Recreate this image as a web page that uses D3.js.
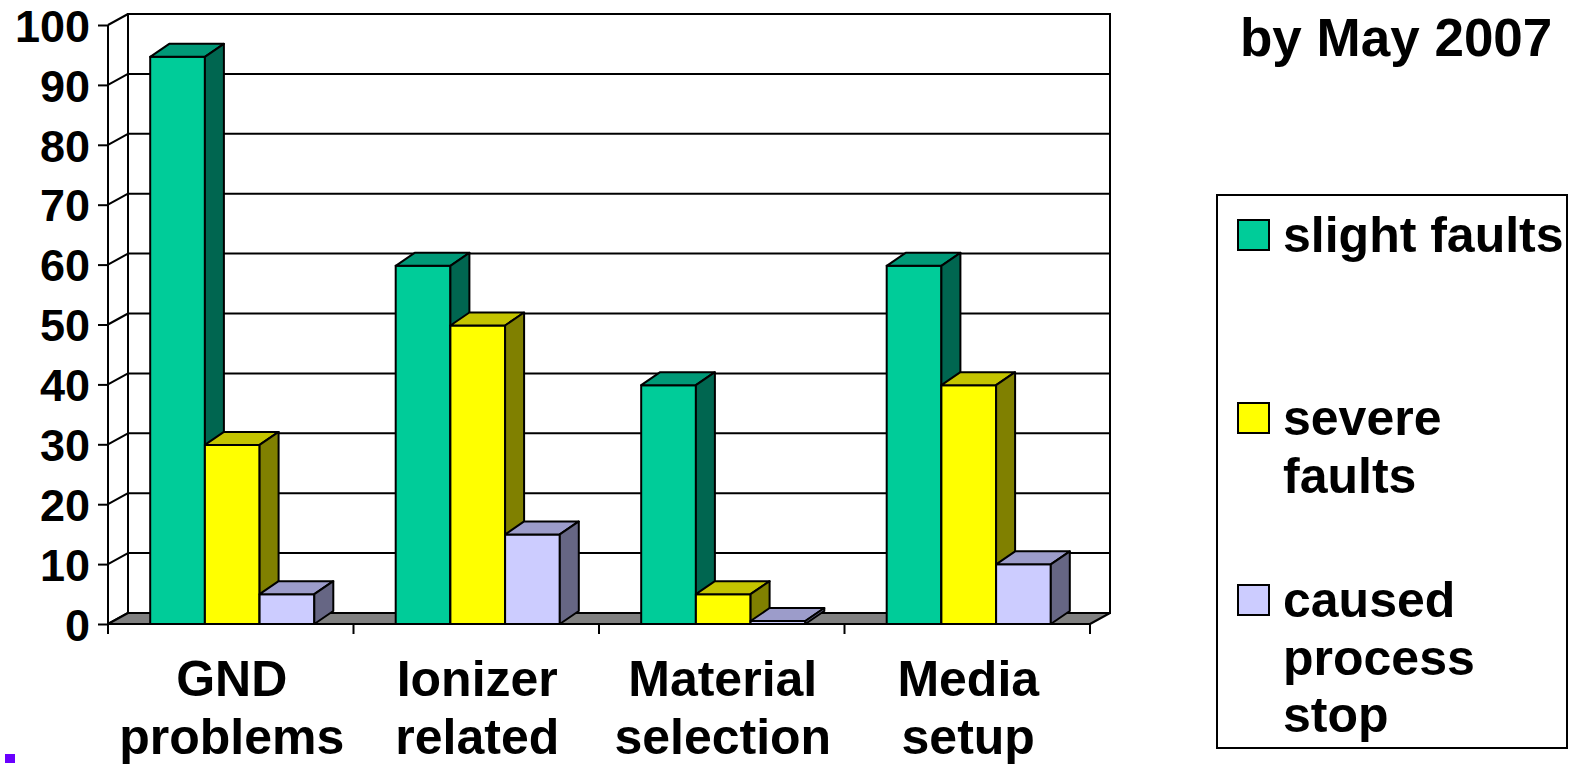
<!DOCTYPE html>
<html>
<head>
<meta charset="utf-8">
<script src="https://cdn.jsdelivr.net/npm/d3@7"></script>
<style>
  html, body { margin: 0; padding: 0; background: #fff; }
  svg { display: block; }
  text { font-family: "Liberation Sans", Arial, sans-serif; font-weight: bold; fill: #000; }
</style>
</head>
<body>
<svg id="chart" width="1569" height="765"></svg>
<script>
// ---- data ----
const categories = ["GND problems", "Ionizer related", "Material selection", "Media setup"];
const categoryLines = [["GND", "problems"], ["Ionizer", "related"], ["Material", "selection"], ["Media", "setup"]];
const seriesNames = ["slight faults", "severe faults", "caused process stop"];
const legendLines = [["slight faults"], ["severe", "faults"], ["caused", "process", "stop"]];
const slightFaults = [95, 60, 40, 60];
const severeFaults = [30, 50, 5, 40];
const processStop = [5, 15, 0.5, 10];
const yTicks = [0, 10, 20, 30, 40, 50, 60, 70, 80, 90, 100];
const titleText = "by May 2007";

// ---- colours (front, top, side) ----
const colors = [
  { front: "#00CC99", top: "#009977", side: "#006650" },
  { front: "#FFFF00", top: "#C4C400", side: "#808000" },
  { front: "#CCCCFF", top: "#9C9CCA", side: "#666684" }
];

const svg = d3.select("#chart");

// ---- geometry ----
const frontLeft = 108, frontRight = 1090;
const wallDX = 20, wallDY = -11;
const barDX = 19, barDY = -13;
const yFront = d3.scaleLinear().domain([0, 100]).range([624, 25]);
const yBack = d3.scaleLinear().domain([0, 100]).range([624 + wallDY, 25 + wallDY]);
const yBar = d3.scaleLinear().domain([0, 100]).range([624, 27]);

const x0 = d3.scaleBand().domain(categories).range([frontLeft, frontRight]).paddingInner(0).paddingOuter(0);
const x1 = d3.scaleBand().domain(seriesNames).range([0, x0.bandwidth()]).paddingInner(0).paddingOuter(0.744);

const seriesValues = [slightFaults, severeFaults, processStop];

// ---- back wall ----
const g = svg.append("g");
g.append("rect")
  .attr("x", frontLeft + wallDX).attr("y", yBack(100))
  .attr("width", frontRight - frontLeft).attr("height", yBack(0) - yBack(100))
  .attr("fill", "#fff").attr("stroke", "#000").attr("stroke-width", 2);

g.selectAll(".grid").data(yTicks.filter(d => d > 0 && d < 100)).enter().append("line")
  .attr("x1", frontLeft + wallDX).attr("x2", frontRight + wallDX)
  .attr("y1", d => yBack(d)).attr("y2", d => yBack(d))
  .attr("stroke", "#000").attr("stroke-width", 2);

g.selectAll(".diag").data(yTicks).enter().append("line")
  .attr("x1", frontLeft).attr("y1", d => yFront(d))
  .attr("x2", frontLeft + wallDX).attr("y2", d => yBack(d))
  .attr("stroke", "#000").attr("stroke-width", 2);

const fy = yFront(0), by = yBack(0);
g.append("polygon")
  .attr("points", [[frontLeft, fy], [frontRight, fy], [frontRight + wallDX, by], [frontLeft + wallDX, by]].map(p => p.join(",")).join(" "))
  .attr("fill", "#808080").attr("stroke", "#000").attr("stroke-width", 2).attr("stroke-linejoin", "round");

// ---- y axis ----
const yAxis = d3.axisLeft(yFront).tickValues(yTicks).tickSize(10).tickPadding(8).tickFormat(d3.format("d"));
const ya = svg.append("g").attr("transform", `translate(${frontLeft},0)`).call(yAxis);
ya.select(".domain").attr("d", `M0,${yFront(100)}V${yFront(0) + 10}`).attr("stroke", "#000").attr("stroke-width", 2);
ya.selectAll(".tick line").attr("stroke", "#000").attr("stroke-width", 2);
ya.selectAll(".tick text").attr("font-size", 45).attr("dy", "0.36em")
  .style("font-family", '"Liberation Sans", Arial, sans-serif').style("font-weight", "bold").attr("fill", "#000");

svg.selectAll(".ctick").data(categories).enter().append("line")
  .attr("x1", d => x0(d) + x0.bandwidth()).attr("x2", d => x0(d) + x0.bandwidth())
  .attr("y1", fy).attr("y2", fy + 10)
  .attr("stroke", "#000").attr("stroke-width", 2);

// ---- bars ----
const barsG = svg.append("g");
categories.forEach((cat, ci) => {
  seriesNames.forEach((s, si) => {
    const v = seriesValues[si][ci];
    const xl = x0(cat) + x1(s) + 1.5;
    const xr = xl + x1.bandwidth();
    const yb = yBar(0);
    const yt = yBar(v);
    const c = colors[si];
    const bg = barsG.append("g");
    bg.append("polygon")
      .attr("points", [[xl, yb], [xr, yb], [xr, yt], [xl, yt]].map(p => p.join(",")).join(" "))
      .attr("fill", c.front).attr("stroke", "#000").attr("stroke-width", 2).attr("stroke-linejoin", "round");
    bg.append("polygon")
      .attr("points", [[xl, yt], [xr, yt], [xr + barDX, yt + barDY], [xl + barDX, yt + barDY]].map(p => p.join(",")).join(" "))
      .attr("fill", c.top).attr("stroke", "#000").attr("stroke-width", 2).attr("stroke-linejoin", "round");
    bg.append("polygon")
      .attr("points", [[xr, yb], [xr + barDX, yb + barDY], [xr + barDX, yt + barDY], [xr, yt]].map(p => p.join(",")).join(" "))
      .attr("fill", c.side).attr("stroke", "#000").attr("stroke-width", 2).attr("stroke-linejoin", "round");
  });
});

// ---- category labels ----
categories.forEach((cat, ci) => {
  const cx = x0(cat) + x0.bandwidth() / 2 + 1;
  const t = svg.append("text").attr("text-anchor", "middle").attr("font-size", 50);
  categoryLines[ci].forEach((line, li) => {
    t.append("tspan").attr("x", cx).attr("y", 696 + li * 58).text(line);
  });
});

// ---- title ----
svg.append("text").attr("x", 1240).attr("y", 56).attr("font-size", 53).text(titleText);

// ---- legend ----
const leg = svg.append("g");
leg.append("rect").attr("x", 1217).attr("y", 195).attr("width", 350).attr("height", 553)
  .attr("fill", "#fff").attr("stroke", "#000").attr("stroke-width", 2);
const legendTop = [220, 403, 585];
seriesNames.forEach((s, i) => {
  leg.append("rect").attr("x", 1238).attr("y", legendTop[i]).attr("width", 31).attr("height", 30)
    .attr("fill", colors[i].front).attr("stroke", "#000").attr("stroke-width", 2);
  const t = leg.append("text").attr("font-size", 50);
  legendLines[i].forEach((line, li) => {
    t.append("tspan").attr("x", 1283).attr("y", legendTop[i] + 32 + li * 57.5).text(line);
  });
});

svg.append("rect").attr("x", 5).attr("y", 754).attr("width", 10).attr("height", 9).attr("fill", "#6A00FF");
</script>
</body>
</html>
